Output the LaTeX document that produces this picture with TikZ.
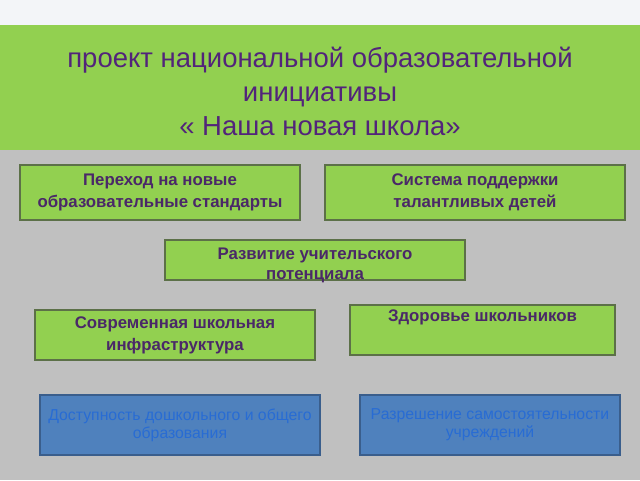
\documentclass[tikz,border=0pt]{standalone}
\usepackage{fontspec}
\setmainfont{Liberation Sans}
\usepackage{xcolor}
\definecolor{bannergreen}{RGB}{146, 208, 80}
\definecolor{panelgray}{RGB}{192, 192, 192}
\definecolor{skywhite}{RGB}{243, 245, 248}
\definecolor{titlepurple}{RGB}{82, 36, 122}
\definecolor{boxpurple}{RGB}{74, 40, 104}
\definecolor{boxedge}{RGB}{92, 112, 72}
\definecolor{boxblue}{RGB}{79, 129, 189}
\definecolor{blueedge}{RGB}{58, 94, 140}
\definecolor{bluetext}{RGB}{40, 108, 212}
\usetikzlibrary{positioning}

\begin{document}
\begin{tikzpicture}[x=1pt, y=-1pt,
    greenbox/.style={draw=boxedge, line width=1.2pt, fill=bannergreen, text=boxpurple,
      font=\fontsize{16.8}{22}\selectfont\bfseries, align=center, inner sep=0pt},
    bluebox/.style={draw=blueedge, line width=1.5pt, fill=boxblue, text=bluetext,
      font=\fontsize{15.8}{18}\selectfont, align=center, inner sep=0pt}]
    \useasboundingbox (0,0) rectangle (640,480);
    \fill[skywhite] (0,0) rectangle (640,25);
    \fill[bannergreen] (0,25) rectangle (640,150);
    \fill[panelgray] (0,150) rectangle (640,480);
    \node[text=titlepurple, font=\fontsize{27.5}{34}\selectfont, align=center] (title) at (320,91)
      {проект национальной образовательной\\инициативы\\« Наша новая школа»};
    \node[greenbox, minimum width=280pt, minimum height=55pt] (standards) at (160,192.5)
      {Переход на новые\\образовательные стандарты};
    \node[greenbox, minimum width=300pt, minimum height=55pt] (talents) at (475,192.5)
      {Система поддержки\\талантливых детей};
    \node[greenbox, minimum width=300pt, minimum height=40pt] (teachers) at (315,260) {};
    \node[text=boxpurple, font=\fontsize{16.8}{20}\selectfont\bfseries, align=center, inner sep=0pt]
      (teacherstext) at ([yshift=-5pt]teachers.center) {Развитие учительского\\потенциала};
    \node[greenbox, minimum width=280pt, minimum height=50pt] (infra) at (175,335)
      {Современная школьная\\инфраструктура};
    \node[greenbox, minimum width=265pt, minimum height=50pt] (health) at (482.5,330)
      {Здоровье школьников\\\strut};
    \node[bluebox, minimum width=280pt, minimum height=60pt] (access) at (180,425)
      {Доступность дошкольного и общего\\образования};
    \node[bluebox, minimum width=260pt, minimum height=60pt] (autonomy) at (490,425)
      {Разрешение самостоятельности\\учреждений};
  \end{tikzpicture}
\end{document}
